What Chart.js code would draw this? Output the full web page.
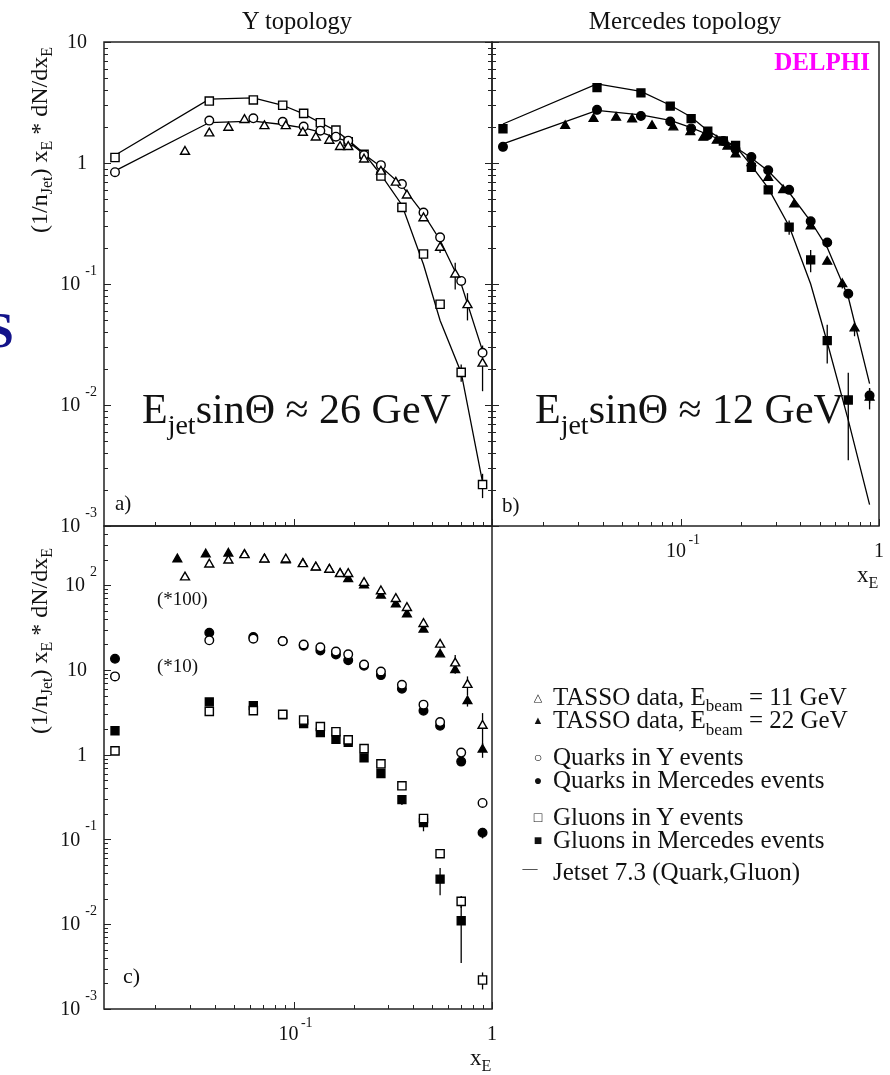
<!DOCTYPE html>
<html>
<head>
<meta charset="utf-8">
<script src="https://cdn.jsdelivr.net/npm/chart.js@4.4.1/dist/chart.umd.min.js"></script>
<style>
  html, body { margin: 0; padding: 0; background: #fff; }
  #wrap { position: relative; width: 890px; height: 1075px; overflow: hidden; background: #fff; }
  canvas, svg { position: absolute; left: 0; top: 0; }
  svg text { font-family: 'Liberation Serif', 'DejaVu Serif', serif; }
</style>
</head>
<body>
<div id="wrap">
  <canvas id="pa" width="890" height="1075"></canvas>
  <canvas id="pb" width="890" height="1075"></canvas>
  <canvas id="pc" width="890" height="1075"></canvas>
  <svg width="890" height="1075" xmlns="http://www.w3.org/2000/svg">
    <g fill="#111">
      <text x="297" y="29" font-size="24.5" text-anchor="middle">Y topology</text>
      <text x="685" y="29" font-size="25" text-anchor="middle">Mercedes topology</text>

      <!-- y axis titles -->
      <text transform="translate(47,140) rotate(-90)" text-anchor="middle" font-size="24">(1/n<tspan font-size="16" dy="5">Jet</tspan><tspan dy="-5">) x</tspan><tspan font-size="16" dy="5">E</tspan><tspan dy="-5"> * dN/dx</tspan><tspan font-size="16" dy="5">E</tspan></text>
      <text transform="translate(47,641) rotate(-90)" text-anchor="middle" font-size="24">(1/n<tspan font-size="16" dy="5">Jet</tspan><tspan dy="-5">) x</tspan><tspan font-size="16" dy="5">E</tspan><tspan dy="-5"> * dN/dx</tspan><tspan font-size="16" dy="5">E</tspan></text>

      <!-- x axis titles -->
      <text x="857" y="582" font-size="23">x<tspan font-size="16" dy="6">E</tspan></text>
      <text x="470" y="1065" font-size="23">x<tspan font-size="16" dy="6">E</tspan></text>

      <!-- panel annotations -->
      <text x="142" y="423" font-size="42">E<tspan font-size="28" dy="11">jet</tspan><tspan dy="-11">sinΘ ≈ 26 GeV</tspan></text>
      <text x="535" y="423" font-size="42">E<tspan font-size="28" dy="11">jet</tspan><tspan dy="-11">sinΘ ≈ 12 GeV</tspan></text>
      <text x="115" y="510" font-size="21">a)</text>
      <text x="502" y="512" font-size="21">b)</text>
      <text x="123" y="983" font-size="22">c)</text>
      <text x="157" y="605" font-size="19">(*100)</text>
      <text x="157" y="672" font-size="19">(*10)</text>

      <!-- legend -->
      <g font-size="25">
        <text x="553" y="705">TASSO data, E<tspan font-size="17" dy="6">beam</tspan><tspan dy="-6"> = 11 GeV</tspan></text>
        <text x="553" y="728">TASSO data, E<tspan font-size="17" dy="7">beam</tspan><tspan dy="-7"> = 22 GeV</tspan></text>
        <text x="553" y="765">Quarks in Y events</text>
        <text x="553" y="788">Quarks in Mercedes events</text>
        <text x="553" y="825">Gluons in Y events</text>
        <text x="553" y="848">Gluons in Mercedes events</text>
        <text x="553" y="880">Jetset 7.3 (Quark,Gluon)</text>
      </g>
      <g text-anchor="middle" dominant-baseline="central" style="font-family:'DejaVu Sans'">
        <text x="538" y="697" font-size="11">△</text>
        <text x="538" y="720" font-size="11">▲</text>
        <text x="538" y="757" font-size="14">○</text>
        <text x="538" y="780" font-size="14">●</text>
        <text x="538" y="817" font-size="14">□</text>
        <text x="538" y="840" font-size="14">■</text>
      </g>
      <text x="530" y="868" font-size="15" text-anchor="middle" dominant-baseline="central">—</text>
    </g>
    <text x="0" y="347" font-size="50" font-weight="bold" fill="#13138a" text-anchor="middle">S</text>
    <text x="870" y="70" font-size="25" font-weight="bold" fill="#ff00ff" text-anchor="end">DELPHI</text>
  </svg>
</div>
<script>
// x_E bin centres for the quark / gluon distributions
const xQG = [0.0125, 0.0374, 0.0624, 0.0878, 0.112, 0.136, 0.163, 0.188, 0.226, 0.275, 0.351, 0.451, 0.547, 0.699, 0.896];
// TASSO bins
const xTasso11 = [0.0282, 0.0374, 0.0467, 0.0563, 0.071, 0.091, 0.111, 0.129, 0.151, 0.171, 0.188, 0.226, 0.275, 0.327, 0.372, 0.451, 0.547, 0.652, 0.752, 0.896];
const xTasso22 = [0.0258, 0.0359, 0.0467, 0.0563, 0.071, 0.091, 0.111, 0.129, 0.151, 0.171, 0.188, 0.226, 0.275, 0.327, 0.372, 0.451, 0.547, 0.652, 0.752, 0.896];

const tasso11    = [1.24, 1.76, 1.96, 2.27, 2.02, 2.02, 1.78, 1.63, 1.53, 1.36, 1.36, 1.07, 0.85, 0.69, 0.54, 0.35, 0.20, 0.12, 0.067, 0.022];
const tasso11Err = [0, 0, 0, 0, 0, 0, 0, 0, 0, 0, 0, 0, 0, 0, 0, 0, 0.02, 0.03, 0.017, 0.009];
const tasso22    = [2.03, 2.32, 2.37, 2.3, 2.03, 1.97, 1.80, 1.62, 1.53, 1.37, 1.18, 1.0, 0.756, 0.597, 0.455, 0.30, 0.153, 0.10, 0.043, 0.0115];
const tasso22Err = [0, 0, 0, 0, 0, 0, 0, 0, 0, 0, 0, 0, 0, 0, 0, 0, 0, 0.008, 0.006, 0.0023];

const quarkY     = [0.84, 2.24, 2.34, 2.19, 2.0, 1.85, 1.65, 1.53, 1.16, 0.96, 0.67, 0.39, 0.243, 0.106, 0.027];
const quarkYErr  = [0, 0, 0, 0, 0, 0, 0, 0, 0, 0, 0, 0, 0, 0, 0.002];
const quarkM     = [1.36, 2.75, 2.45, 2.2, 1.93, 1.7, 1.52, 1.3, 1.12, 0.87, 0.6, 0.33, 0.22, 0.083, 0.012];
const quarkMErr  = [0, 0, 0, 0, 0, 0, 0, 0, 0, 0, 0, 0, 0, 0.006, 0.0017];
const gluonY     = [1.11, 3.25, 3.32, 3.0, 2.57, 2.15, 1.87, 1.5, 1.18, 0.78, 0.43, 0.177, 0.068, 0.0186, 0.0022];
const gluonYErr  = [0, 0, 0, 0, 0, 0, 0, 0, 0, 0, 0, 0, 0, 0.003, 0.0005];
const gluonM     = [1.92, 4.2, 3.8, 2.95, 2.33, 1.83, 1.52, 1.4, 0.92, 0.6, 0.295, 0.158, 0.034, 0.011];
const gluonMErr  = [0, 0, 0, 0, 0, 0, 0, 0, 0, 0, 0.04, 0.033, 0.012, 0.0075];

// Jetset 7.3 predictions
const jetQuarkY  = [0.86, 2.16, 2.22, 2.08, 1.95, 1.8, 1.62, 1.5, 1.18, 0.93, 0.65, 0.38, 0.23, 0.1, 0.028];
const jetGluonY  = [1.16, 3.37, 3.45, 3.0, 2.55, 2.15, 1.85, 1.55, 1.2, 0.8, 0.45, 0.145, 0.05, 0.0185, 0.0023];
const jetQuarkM  = [1.44, 2.72, 2.5, 2.25, 1.96, 1.72, 1.52, 1.35, 1.1, 0.86, 0.57, 0.33, 0.2, 0.078, 0.015];
const jetGluonM  = [2.1, 4.5, 3.9, 3.0, 2.4, 1.85, 1.55, 1.38, 0.95, 0.62, 0.3, 0.1, 0.033, 0.0075, 0.0015];

// offsets used in panel c
const scaleTasso = 100, scaleQuark = 10, scaleGluon = 1;

const pts = (xs, ys, k) => ys.map((v, i) => ({ x: xs[i], y: v * k }));

function markers(xs, ys, es, k, style, r, filled) {
  return {
    data: pts(xs, ys, k),
    errs: es ? es.map(e => e * k) : null,
    pointStyle: style,
    pointRadius: r,
    backgroundColor: filled ? '#000' : '#fff',
    borderColor: '#000',
    borderWidth: 1.4,
    showLine: false,
    order: filled ? 2 : 1
  };
}
function curve(xs, ys) {
  return {
    data: pts(xs, ys, 1),
    showLine: true,
    pointRadius: 0,
    borderColor: '#000',
    borderWidth: 1.3,
    fill: false,
    order: 3
  };
}

const errorBars = {
  id: 'errorBars',
  beforeDatasetsDraw(chart) {
    const { ctx, scales: { x, y } } = chart;
    ctx.save();
    ctx.strokeStyle = '#000';
    ctx.lineWidth = 1.3;
    chart.data.datasets.forEach(ds => {
      if (!ds.errs) return;
      ds.data.forEach((p, i) => {
        const e = ds.errs[i];
        if (!e) return;
        const px = x.getPixelForValue(p.x);
        const lo = Math.max(p.y - e, y.min);
        ctx.beginPath();
        ctx.moveTo(px, y.getPixelForValue(p.y + e));
        ctx.lineTo(px, y.getPixelForValue(lo));
        ctx.stroke();
      });
    });
    ctx.restore();
  }
};

// ROOT-like frame: inward ticks, 10^n labels
const framePlugin = {
  id: 'frame',
  afterDraw(chart, args, o) {
    const { ctx, chartArea: a, scales: { x, y } } = chart;
    const ticks = s => {
      const out = [];
      for (let e = -4; e <= 3; e++) {
        for (let m = 1; m <= 9; m++) {
          const v = m * Math.pow(10, e);
          if (v >= s.min * 0.999 && v <= s.max * 1.001) out.push({ v, e, major: m === 1 });
        }
      }
      return out;
    };
    ctx.save();
    ctx.strokeStyle = '#222';
    ctx.lineWidth = 1.5;
    ctx.strokeRect(a.left, a.top, a.right - a.left, a.bottom - a.top);
    ctx.lineWidth = 1;
    ctx.beginPath();
    for (const t of ticks(x)) {
      const px = Math.round(x.getPixelForValue(t.v)) + 0.5;
      const len = t.major ? 7 : 4;
      ctx.moveTo(px, a.bottom);
      ctx.lineTo(px, a.bottom - len);
    }
    for (const t of ticks(y)) {
      const py = Math.round(y.getPixelForValue(t.v)) + 0.5;
      const len = t.major ? 7 : 4;
      ctx.moveTo(a.left, py);
      ctx.lineTo(a.left + len, py);
      if (o.leftOut) {
        ctx.moveTo(a.left, py);
        ctx.lineTo(a.left - len, py);
      }
    }
    ctx.stroke();

    ctx.fillStyle = '#111';
    const big = '20px "Liberation Serif", serif';
    const small = '14px "Liberation Serif", serif';
    if (o.yLabels) {
      ctx.textBaseline = 'middle';
      ctx.textAlign = 'right';
      for (const t of ticks(y)) {
        if (!t.major) continue;
        const py = y.getPixelForValue(t.v);
        if (t.e === 0 || t.e === 1) {
          ctx.font = big;
          ctx.fillText(t.e === 0 ? '1' : '10', a.left - 17, py + 1);
        } else {
          ctx.font = small;
          const sup = String(t.e);
          const sw = ctx.measureText(sup).width;
          ctx.fillText(sup, a.left - 7, py - 13);
          ctx.font = big;
          ctx.fillText('10', a.left - 12 - sw, py + 1);
        }
      }
    }
    if (o.xLabels) {
      ctx.textBaseline = 'middle';
      for (const t of ticks(x)) {
        if (!t.major) continue;
        const px = x.getPixelForValue(t.v);
        if (t.e === 0) {
          ctx.font = big;
          ctx.textAlign = 'center';
          ctx.fillText('1', px, a.bottom + 26);
        } else {
          ctx.font = big;
          ctx.textAlign = 'right';
          ctx.fillText('10', px + 4.5, a.bottom + 26);
          ctx.font = small;
          ctx.textAlign = 'left';
          ctx.fillText(String(t.e), px + 7, a.bottom + 14);
        }
      }
    }
    ctx.restore();
  }
};

function makeChart(id, datasets, pad, yMax, frameOpts) {
  return new Chart(document.getElementById(id), {
    type: 'scatter',
    data: { datasets },
    options: {
      responsive: false,
      animation: false,
      events: [],
      layout: { padding: pad },
      plugins: { legend: { display: false }, tooltip: { enabled: false }, frame: frameOpts },
      scales: {
        x: { type: 'logarithmic', min: 0.011, max: 1, display: false },
        y: { type: 'logarithmic', min: 0.001, max: yMax, display: false }
      }
    },
    plugins: [errorBars, framePlugin]
  });
}

// a) Y topology
makeChart('pa', [
  markers(xTasso11, tasso11, tasso11Err, 1, 'triangle', 5.2, false),
  markers(xQG, quarkY, quarkYErr, 1, 'circle', 4.3, false),
  markers(xQG, gluonY, gluonYErr, 1, 'rect', 5.8, false),
  curve(xQG, jetQuarkY),
  curve(xQG, jetGluonY)
], { left: 104, top: 42, right: 398, bottom: 549 }, 10, { yLabels: true });

// b) Mercedes topology
makeChart('pb', [
  markers(xTasso22, tasso22, tasso22Err, 1, 'triangle', 5.0, true),
  markers(xQG, quarkM, quarkMErr, 1, 'circle', 4.3, true),
  markers(xQG.slice(0, gluonM.length), gluonM, gluonMErr, 1, 'rect', 5.6, true),
  curve(xQG, jetQuarkM),
  curve(xQG, jetGluonM)
], { left: 492, top: 42, right: 11, bottom: 549 }, 10, { xLabels: true, leftOut: true });

// c) all data, offset
makeChart('pc', [
  markers(xTasso11, tasso11, tasso11Err, scaleTasso, 'triangle', 5.2, false),
  markers(xTasso22, tasso22, tasso22Err, scaleTasso, 'triangle', 5.0, true),
  markers(xQG, quarkY, quarkYErr, scaleQuark, 'circle', 4.3, false),
  markers(xQG, quarkM, quarkMErr, scaleQuark, 'circle', 4.3, true),
  markers(xQG, gluonY, gluonYErr, scaleGluon, 'rect', 5.8, false),
  markers(xQG.slice(0, gluonM.length), gluonM, gluonMErr, scaleGluon, 'rect', 5.6, true)
], { left: 104, top: 526, right: 398, bottom: 66 }, 500, { yLabels: true, xLabels: true });
</script>
</body>
</html>
